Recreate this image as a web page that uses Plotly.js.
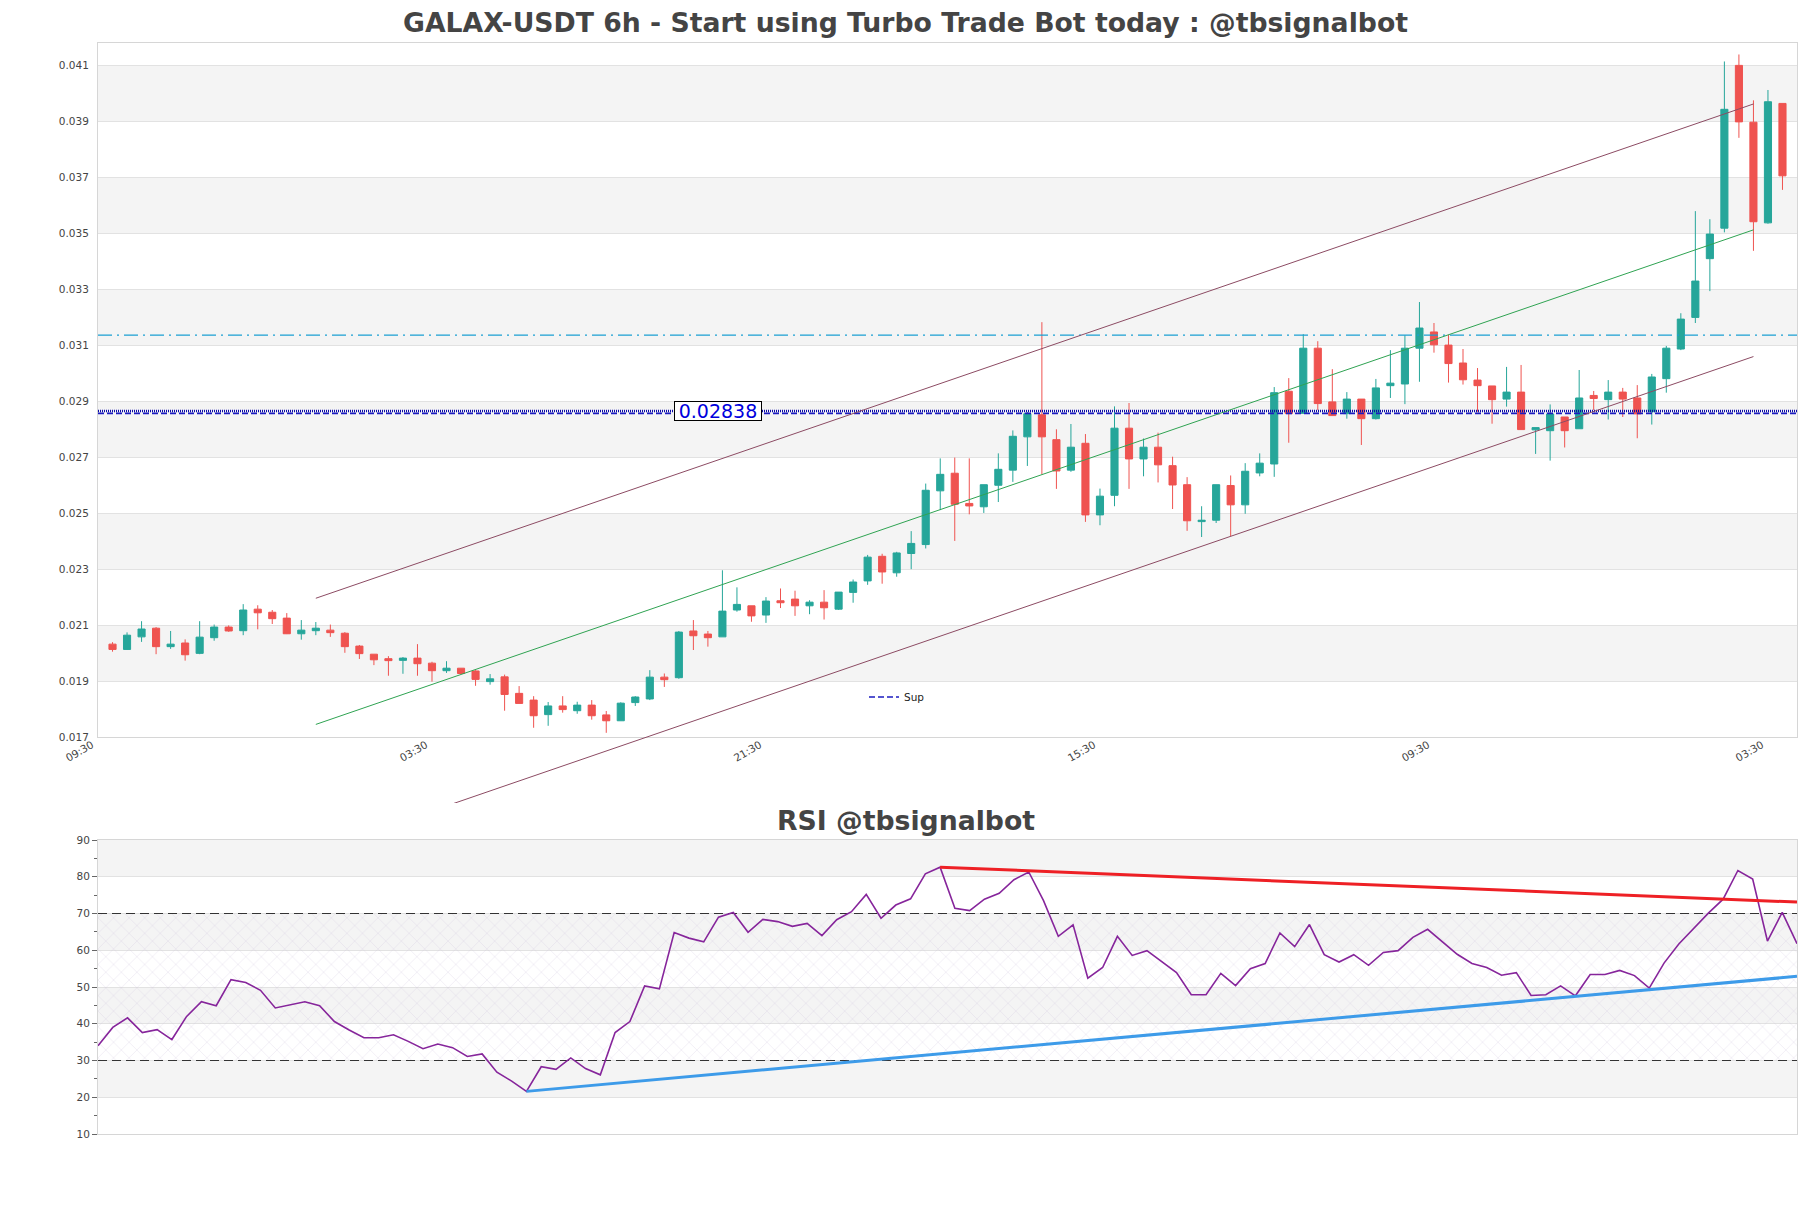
<!DOCTYPE html>
<html>
<head>
<meta charset="utf-8">
<script src="https://cdn.plot.ly/plotly-3.0.1.min.js"></script>
<style>
  html, body { margin: 0; padding: 0; background: #fff; }
  #chart { width: 1811px; height: 1208px; }
</style>
</head>
<body>
<div id="chart"></div>
<script>
// Data ------------------------------------------------------------------------
const open = [
  0.02032, 0.02013, 0.02058, 0.02089, 0.02023, 0.02036, 0.01999, 0.02055, 0.02093, 0.02080,
  0.02157, 0.02146, 0.02125, 0.02069, 0.02080, 0.02082, 0.02071, 0.02025, 0.01996, 0.01980,
  0.01974, 0.01982, 0.01964, 0.01937, 0.01946, 0.01936, 0.01898, 0.01915, 0.01856, 0.01832,
  0.01780, 0.01811, 0.01794, 0.01814, 0.01779, 0.01758, 0.01823, 0.01836, 0.01914, 0.01912,
  0.02079, 0.02068, 0.02058, 0.02154, 0.02169, 0.02136, 0.02187, 0.02193, 0.02169, 0.02182,
  0.02157, 0.02217, 0.02258, 0.02346, 0.02287, 0.02356, 0.02388, 0.02580, 0.02643, 0.02535,
  0.02523, 0.02600, 0.02654, 0.02773, 0.02852, 0.02763, 0.02654, 0.02750, 0.02494, 0.02564,
  0.02804, 0.02694, 0.02736, 0.02670, 0.02602, 0.02470, 0.02475, 0.02599, 0.02530, 0.02644,
  0.02676, 0.02936, 0.02857, 0.03090, 0.02898, 0.02856, 0.02908, 0.02838, 0.02956, 0.02962,
  0.03090, 0.03148, 0.03101, 0.03037, 0.02976, 0.02955, 0.02908, 0.02933, 0.02798, 0.02795,
  0.02844, 0.02802, 0.02921, 0.02906, 0.02933, 0.02912, 0.02863, 0.02981, 0.03087, 0.03200,
  0.03410, 0.03519, 0.04101, 0.03898, 0.03538, 0.03965
]
const high = [
  0.02039, 0.02074, 0.02114, 0.02093, 0.02079, 0.02049, 0.02114, 0.02102, 0.02099, 0.02175,
  0.02171, 0.02154, 0.02143, 0.02118, 0.02111, 0.02102, 0.02075, 0.02029, 0.01996, 0.01989,
  0.01986, 0.02032, 0.01969, 0.01971, 0.01946, 0.01939, 0.01925, 0.01923, 0.01882, 0.01846,
  0.01825, 0.01846, 0.01826, 0.01832, 0.01793, 0.01824, 0.01846, 0.01939, 0.01927, 0.02079,
  0.02118, 0.02079, 0.02296, 0.02235, 0.02169, 0.02200, 0.02231, 0.02223, 0.02189, 0.02225,
  0.02218, 0.02263, 0.02351, 0.02355, 0.02362, 0.02436, 0.02606, 0.02696, 0.02699, 0.02696,
  0.02602, 0.02714, 0.02796, 0.02862, 0.03183, 0.02800, 0.02819, 0.02783, 0.02588, 0.02882,
  0.02894, 0.02767, 0.02788, 0.02702, 0.02629, 0.02525, 0.02602, 0.02635, 0.02679, 0.02714,
  0.02951, 0.02983, 0.03140, 0.03115, 0.03015, 0.02933, 0.02908, 0.02980, 0.03083, 0.03136,
  0.03255, 0.03180, 0.03138, 0.03087, 0.03019, 0.02955, 0.03023, 0.03030, 0.02806, 0.02889,
  0.02844, 0.03012, 0.02937, 0.02976, 0.02948, 0.02958, 0.02998, 0.03098, 0.03215, 0.03580,
  0.03551, 0.04115, 0.04140, 0.03976, 0.04013, 0.03965
]
const low = [
  0.02005, 0.02012, 0.02040, 0.01996, 0.02015, 0.01973, 0.01996, 0.02044, 0.02076, 0.02064,
  0.02085, 0.02104, 0.02068, 0.02048, 0.02064, 0.02058, 0.02001, 0.01979, 0.01957, 0.01919,
  0.01926, 0.01919, 0.01898, 0.01929, 0.01925, 0.01883, 0.01887, 0.01794, 0.01820, 0.01733,
  0.01740, 0.01787, 0.01783, 0.01762, 0.01715, 0.01758, 0.01811, 0.01832, 0.01879, 0.01908,
  0.02011, 0.02023, 0.02058, 0.02148, 0.02112, 0.02108, 0.02161, 0.02133, 0.02139, 0.02120,
  0.02154, 0.02180, 0.02244, 0.02248, 0.02273, 0.02300, 0.02374, 0.02511, 0.02401, 0.02496,
  0.02501, 0.02540, 0.02612, 0.02669, 0.02639, 0.02587, 0.02648, 0.02469, 0.02457, 0.02525,
  0.02587, 0.02632, 0.02610, 0.02515, 0.02437, 0.02415, 0.02465, 0.02418, 0.02498, 0.02632,
  0.02630, 0.02752, 0.02857, 0.02869, 0.02849, 0.02838, 0.02744, 0.02835, 0.02912, 0.02890,
  0.02970, 0.03074, 0.02967, 0.02960, 0.02863, 0.02820, 0.02881, 0.02799, 0.02712, 0.02688,
  0.02735, 0.02802, 0.02869, 0.02835, 0.02844, 0.02768, 0.02817, 0.02931, 0.03083, 0.03180,
  0.03294, 0.03504, 0.03842, 0.03438, 0.03535, 0.03656
]
const close = [
  0.02013, 0.02064, 0.02086, 0.02023, 0.02032, 0.01994, 0.02057, 0.02093, 0.02079, 0.02154,
  0.02144, 0.02123, 0.02069, 0.02082, 0.02089, 0.02073, 0.02023, 0.01998, 0.01976, 0.01973,
  0.01982, 0.01962, 0.01937, 0.01946, 0.01927, 0.01906, 0.01908, 0.01852, 0.01820, 0.01776,
  0.01811, 0.01798, 0.01814, 0.01776, 0.01758, 0.01821, 0.01843, 0.01914, 0.01905, 0.02075,
  0.02062, 0.02055, 0.02150, 0.02174, 0.02133, 0.02186, 0.02180, 0.02169, 0.02182, 0.02162,
  0.02218, 0.02254, 0.02343, 0.02290, 0.02358, 0.02392, 0.02582, 0.02639, 0.02532, 0.02526,
  0.02602, 0.02657, 0.02775, 0.02856, 0.02773, 0.02651, 0.02736, 0.02494, 0.02561, 0.02804,
  0.02694, 0.02736, 0.02673, 0.02601, 0.02473, 0.02475, 0.02602, 0.02530, 0.02650, 0.02679,
  0.02931, 0.02856, 0.03090, 0.02892, 0.02849, 0.02908, 0.02838, 0.02948, 0.02965, 0.03090,
  0.03162, 0.03102, 0.03035, 0.02977, 0.02956, 0.02906, 0.02933, 0.02799, 0.02806, 0.02855,
  0.02795, 0.02912, 0.02910, 0.02933, 0.02908, 0.02855, 0.02987, 0.03090, 0.03194, 0.03330,
  0.03498, 0.03944, 0.03899, 0.03542, 0.03971, 0.03706
]
const rsi = [
  34.0, 39.0, 41.6, 37.6, 38.4, 35.7, 42.0, 46.0, 44.9, 52.0,
  51.2, 49.1, 44.3, 45.2, 46.0, 44.9, 40.6, 38.3, 36.2, 36.2,
  37.0, 35.2, 33.2, 34.5, 33.5, 31.1, 31.8, 26.8, 24.4, 21.6,
  28.3, 27.6, 30.7, 27.8, 26.1, 37.6, 40.6, 50.3, 49.5, 64.8,
  63.3, 62.3, 69.0, 70.3, 64.9, 68.4, 67.8, 66.5, 67.3, 64.0,
  68.3, 70.5, 75.2, 68.7, 72.3, 74.0, 80.8, 82.6, 71.4, 70.8,
  73.9, 75.5, 79.2, 81.3, 73.5, 63.8, 66.9, 52.4, 55.3, 63.8,
  58.6, 59.9, 56.9, 53.9, 47.9, 47.9, 53.7, 50.4, 55.0, 56.4,
  64.7, 61.0, 67.0, 58.8, 56.8, 58.8, 55.9, 59.4, 59.9, 63.5,
  65.7, 62.4, 58.9, 56.4, 55.3, 53.2, 53.9, 47.7, 47.9, 50.3,
  47.6, 53.4, 53.4, 54.5, 53.1, 49.7, 56.5, 61.7, 66.0, 70.1,
  73.9, 81.7, 79.4, 62.5, 70.3, 61.8
]

// price channel: candle index where it starts / ends, and the price there
const channelCandles = [15, 114]
const channelUpper = [0.02196, 0.03963]
const channelMiddle = [0.01745, 0.03513]
const channelLower = [0.01293, 0.03060]

// horizontal levels
const resistanceLevel = 0.03137
const supportDotted = 0.02865
const supportDashed = 0.02857
const supportLabel = '0.02838'

// RSI trend lines: [from candle, to candle] and values
const rsiResistanceCandles = [58, 116]
const rsiResistance = [82.6, 73.1]
const rsiSupportCandles = [30, 116]
const rsiSupport = [21.6, 52.9]

const priceTicks = [0.017, 0.019, 0.021, 0.023, 0.025, 0.027, 0.029, 0.031, 0.033, 0.035, 0.037, 0.039, 0.041]
const rsiTicks = [10, 20, 30, 40, 50, 60, 70, 80, 90]
const priceRange = [0.017, 0.04181]

// Utils -----------------------------------------------------------------------
const Plotly = window.Plotly
const SIX_HOURS = 6 * 3600 * 1000
const start = Date.UTC(2024, 0, 1, 9, 30)
const stamp = n => new Date(start + n * SIX_HOURS).toISOString().slice(0, 19).replace('T', ' ')
const candleTimes = open.map((_, i) => stamp(i + 1))

const font = 'DejaVu Sans'
const tickFont = { family: font, size: 10.5, color: '#444' }
const titleFont = { family: font, size: 26.7, weight: 'bold', color: '#444' }

// pixel row -> paper fraction (plot area is 43..1134)
const margin = { l: 98, r: 14, t: 43, b: 74 }
const paperY = y => (1208 - margin.b - y) / (1208 - margin.t - margin.b)
const paperX = x => (x - margin.l) / (1811 - margin.l - margin.r)
const mainDomain = [paperY(737), 1]
const rsiDomain = [0, paperY(840)]
// the channel lines run a bit past the bottom of the price pane
const channelDomain = [paperY(803), 1]
const perDomain = (priceRange[1] - priceRange[0]) / (mainDomain[1] - mainDomain[0])
const channelRange = [priceRange[0] - (mainDomain[0] - channelDomain[0]) * perDomain, priceRange[1]]

const bands = (ticks, yref) => ticks
  .slice(0, -1)
  .map((t, i) => [t, ticks[i + 1]])
  .filter((_, i) => i % 2 === 1)
  .map(([y0, y1]) => ({
    type: 'rect',
    xref: yref === 'y' ? 'x domain' : 'x2 domain',
    yref: yref,
    x0: 0,
    x1: 1,
    y0: y0,
    y1: y1,
    fillcolor: '#f4f4f4',
    line: { width: 0 },
    layer: 'below'
  }))

const flat = (value, xs, ax) => ({
  x: xs,
  y: xs.map(() => value),
  xaxis: ax[0],
  yaxis: ax[1],
  mode: 'lines',
  hoverinfo: 'skip',
  showlegend: false
})

const span = [stamp(0), stamp(117)]
const rsiSpan = [candleTimes[0], candleTimes[candleTimes.length - 1]]

// Price pane ------------------------------------------------------------------
const candles = {
  type: 'candlestick',
  x: candleTimes,
  open: open,
  high: high,
  low: low,
  close: close,
  increasing: { line: { color: '#26a69a', width: 1 }, fillcolor: '#26a69a' },
  decreasing: { line: { color: '#ef5350', width: 1 }, fillcolor: '#ef5350' },
  xaxis: 'x',
  yaxis: 'y',
  showlegend: false,
  hoverinfo: 'skip'
}

const channel = (values, color) => ({
  x: channelCandles.map(stamp),
  y: values,
  xaxis: 'x',
  yaxis: 'y3',
  mode: 'lines',
  line: { color: color, width: 1 },
  hoverinfo: 'skip',
  showlegend: false
})

const resistance = {
  ...flat(resistanceLevel, span, ['x', 'y']),
  line: { color: '#1a9fd2', width: 1.2, dash: '14px,5px,2px,5px' }
}
const supDotted = {
  ...flat(supportDotted, span, ['x', 'y']),
  line: { color: '#0a0aa8', width: 2.5, dash: '1px,1px' }
}
const supDashed = {
  ...flat(supportDashed, span, ['x', 'y']),
  line: { color: '#1c1cc0', width: 1.6, dash: '6px,3px' },
  name: 'Sup',
  showlegend: true
}

// RSI pane --------------------------------------------------------------------
const hatchFloor = { ...flat(30, rsiSpan, ['x2', 'y2']), line: { width: 0 } }
const hatch = {
  ...flat(70, rsiSpan, ['x2', 'y2']),
  line: { width: 0 },
  fill: 'tonexty',
  fillcolor: 'rgba(0,0,0,0)',
  fillpattern: { shape: 'x', fgcolor: 'rgba(200,184,216,0.6)', size: 11, solidity: 0.07 }
}
const overbought = { ...flat(70, rsiSpan, ['x2', 'y2']), line: { color: '#333', width: 1.1, dash: '9px,5px' } }
const oversold = { ...flat(30, rsiSpan, ['x2', 'y2']), line: { color: '#333', width: 1.1, dash: '9px,5px' } }

const rsiLine = {
  x: candleTimes,
  y: rsi,
  xaxis: 'x2',
  yaxis: 'y2',
  mode: 'lines',
  line: { color: '#86259b', width: 1.6 },
  hoverinfo: 'skip',
  showlegend: false
}

const trend = (candlesAt, values, color) => ({
  x: candlesAt.map(stamp),
  y: values,
  xaxis: 'x2',
  yaxis: 'y2',
  mode: 'lines',
  line: { color: color, width: 3 },
  hoverinfo: 'skip',
  showlegend: false
})

// Layout ----------------------------------------------------------------------
const frame = { showline: true, mirror: true, linecolor: '#d6d6d6', linewidth: 1 }

const layout = {
  width: 1811,
  height: 1208,
  margin: margin,
  paper_bgcolor: '#fff',
  // transparent so the extended channel pane does not hide the price pane
  plot_bgcolor: 'rgba(0,0,0,0)',
  font: { family: font, color: '#444' },
  title: {
    text: 'GALAX-USDT 6h - Start using Turbo Trade Bot today : @tbsignalbot',
    font: titleFont,
    x: 0.5,
    xref: 'container',
    y: 1 - 23 / 1208,
    yref: 'container',
    yanchor: 'middle'
  },
  xaxis: {
    ...frame,
    type: 'date',
    domain: [0, 1],
    anchor: 'y',
    range: span,
    tick0: stamp(0),
    dtick: 23 * SIX_HOURS,
    tickformat: '%H:%M',
    tickangle: -30,
    tickfont: tickFont,
    ticklabelshift: -6,
    ticklabelstandoff: -3,
    showgrid: false,
    ticks: '',
    rangeslider: { visible: false }
  },
  yaxis: {
    ...frame,
    domain: mainDomain,
    anchor: 'x',
    range: priceRange,
    tickvals: priceTicks,
    tickformat: '.3f',
    tickfont: tickFont,
    gridcolor: '#e2e2e2',
    zeroline: false,
    ticks: 'outside',
    ticklen: 6,
    tickcolor: 'rgba(0,0,0,0)'
  },
  yaxis3: {
    domain: channelDomain,
    anchor: 'x',
    range: channelRange,
    visible: false,
    showgrid: false
  },
  xaxis2: {
    ...frame,
    type: 'date',
    domain: [0, 1],
    anchor: 'y2',
    range: rsiSpan,
    showticklabels: false,
    showgrid: false,
    ticks: ''
  },
  yaxis2: {
    ...frame,
    domain: rsiDomain,
    anchor: 'x2',
    range: [10, 90],
    tickvals: rsiTicks,
    tickfont: tickFont,
    gridcolor: '#e2e2e2',
    zeroline: false,
    ticks: 'outside',
    ticklen: 5,
    tickcolor: '#666',
    minor: { ticks: 'outside', ticklen: 3, dtick: 5, tick0: 5, tickcolor: '#666', showgrid: false }
  },
  shapes: [...bands(priceTicks, 'y'), ...bands(rsiTicks, 'y2')],
  annotations: [
    {
      text: 'RSI @tbsignalbot',
      xref: 'paper',
      yref: 'paper',
      x: paperX(905.5),
      y: paperY(820),
      xanchor: 'center',
      yanchor: 'middle',
      showarrow: false,
      font: titleFont
    },
    {
      text: supportLabel,
      xref: 'x',
      yref: 'y',
      x: stamp(42.7),
      y: supportDotted,
      showarrow: false,
      font: { family: font, size: 19, color: '#0000dd' },
      bgcolor: '#fff',
      bordercolor: '#000',
      borderwidth: 1,
      borderpad: 1,
      width: 84,
      height: 16
    }
  ],
  legend: {
    x: paperX(864),
    y: paperY(697),
    xanchor: 'left',
    yanchor: 'middle',
    bgcolor: 'rgba(0,0,0,0)',
    font: { family: font, size: 10.5, color: '#222' }
  }
}

Plotly.newPlot('chart', [
  hatchFloor,
  hatch,
  overbought,
  oversold,
  rsiLine,
  trend(rsiResistanceCandles, rsiResistance, '#ee2025'),
  trend(rsiSupportCandles, rsiSupport, '#3d9be9'),
  resistance,
  supDashed,
  supDotted,
  candles,
  channel(channelUpper, '#8c4b63'),
  channel(channelMiddle, '#2fa352'),
  channel(channelLower, '#8c4b63')
], layout, { staticPlot: true })
</script>
</body>
</html>
